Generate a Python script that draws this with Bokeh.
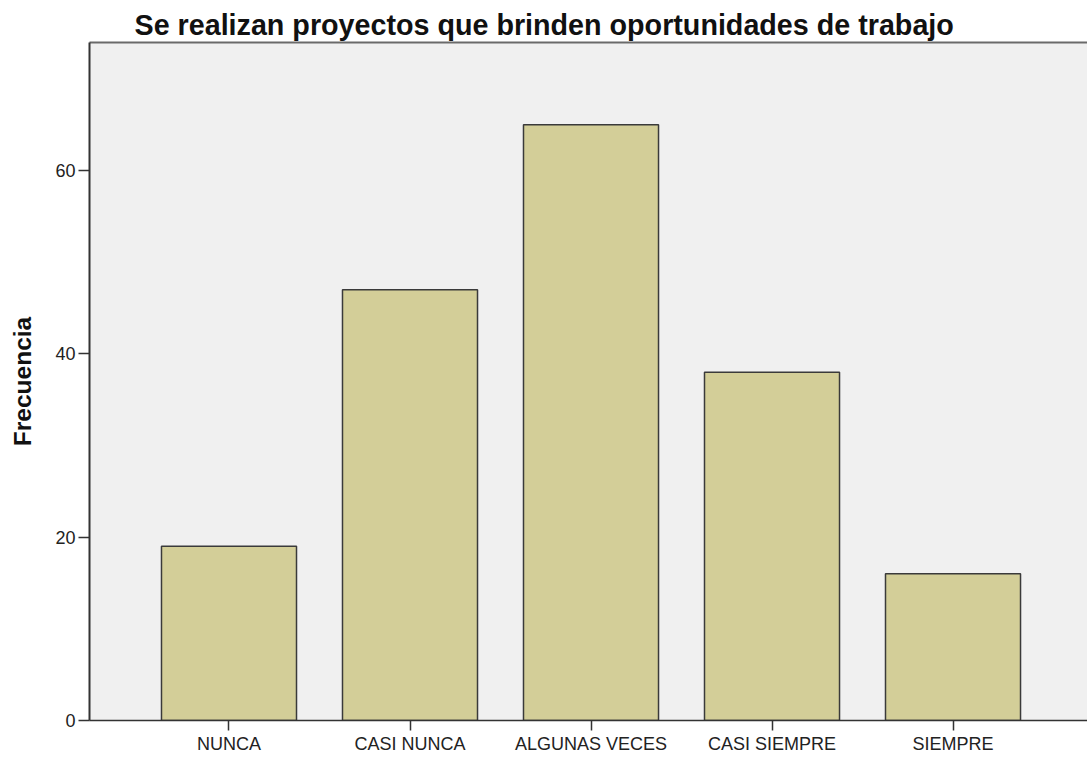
from bokeh.plotting import figure
from bokeh.models import LinearAxis, FixedTicker, Range1d
from bokeh.embed import file_html
from bokeh.resources import INLINE

categories = ["NUNCA", "CASI NUNCA", "ALGUNAS VECES", "CASI SIEMPRE", "SIEMPRE"]
frecuencia = [19, 47, 65, 38, 16]
y_ticks = [0, 20, 40, 60]
title_text = "Se realizan proyectos que brinden oportunidades de trabajo"
y_label = "Frecuencia"

xs = list(range(len(categories)))

p = figure(width=1087, height=757, output_backend="svg", toolbar_location=None,
           x_range=Range1d(-0.7707, 4.743), y_range=Range1d(0, 73.96),
           min_border_left=89, min_border_top=42, min_border_bottom=37, min_border_right=0,
           background_fill_color="#F0F0F0", border_fill_color="white",
           outline_line_color=None)

p.title.text = title_text
p.title.text_font = "Liberation Sans"
p.title.text_font_style = "bold"
p.title.text_font_size = "28.7px"
p.title.text_color = "#111111"
p.title.align = "left"
p.title.offset = 45
p.title.standoff = 4

p.vbar(x=xs, top=frecuencia, width=0.746, bottom=0,
       fill_color="#D3CE98", line_color="#3A3A3A", line_width=1.5)

p.xgrid.visible = False
p.ygrid.visible = False

xa = p.xaxis[0]
xa.ticker = FixedTicker(ticks=xs)
xa.major_label_overrides = {i: c for i, c in enumerate(categories)}
xa.major_tick_out = 10
xa.major_tick_in = 0
xa.minor_tick_out = 0
xa.minor_tick_in = 0
xa.axis_line_color = "#333333"
xa.axis_line_width = 1.5
xa.major_tick_line_color = "#333333"
xa.major_tick_line_width = 1.5
xa.major_label_text_font = "Liberation Sans"
xa.major_label_text_font_size = "18px"
xa.major_label_text_color = "#222222"
xa.major_label_standoff = 3

ya = p.yaxis[0]
ya.ticker = FixedTicker(ticks=y_ticks)
ya.major_tick_out = 11
ya.major_tick_in = 0
ya.minor_tick_out = 0
ya.minor_tick_in = 0
ya.axis_line_color = "#333333"
ya.axis_line_width = 2
ya.major_tick_line_color = "#333333"
ya.major_tick_line_width = 1.5
ya.major_label_text_font = "Liberation Sans"
ya.major_label_text_font_size = "18px"
ya.major_label_text_color = "#222222"
ya.major_label_standoff = 3
ya.axis_label = y_label
ya.axis_label_text_font = "Liberation Sans"
ya.axis_label_text_font_style = "bold"
ya.axis_label_text_font_size = "24.5px"
ya.axis_label_text_color = "#111111"
ya.axis_label_standoff = 16

top_axis = LinearAxis(ticker=FixedTicker(ticks=[]), major_label_text_font_size="0px",
                      axis_line_color="#6A6A6A", axis_line_width=2,
                      major_tick_out=0, major_tick_in=0, minor_tick_out=0, minor_tick_in=0)
p.add_layout(top_axis, "above")

open("out.html", "w").write(file_html(p, INLINE))
